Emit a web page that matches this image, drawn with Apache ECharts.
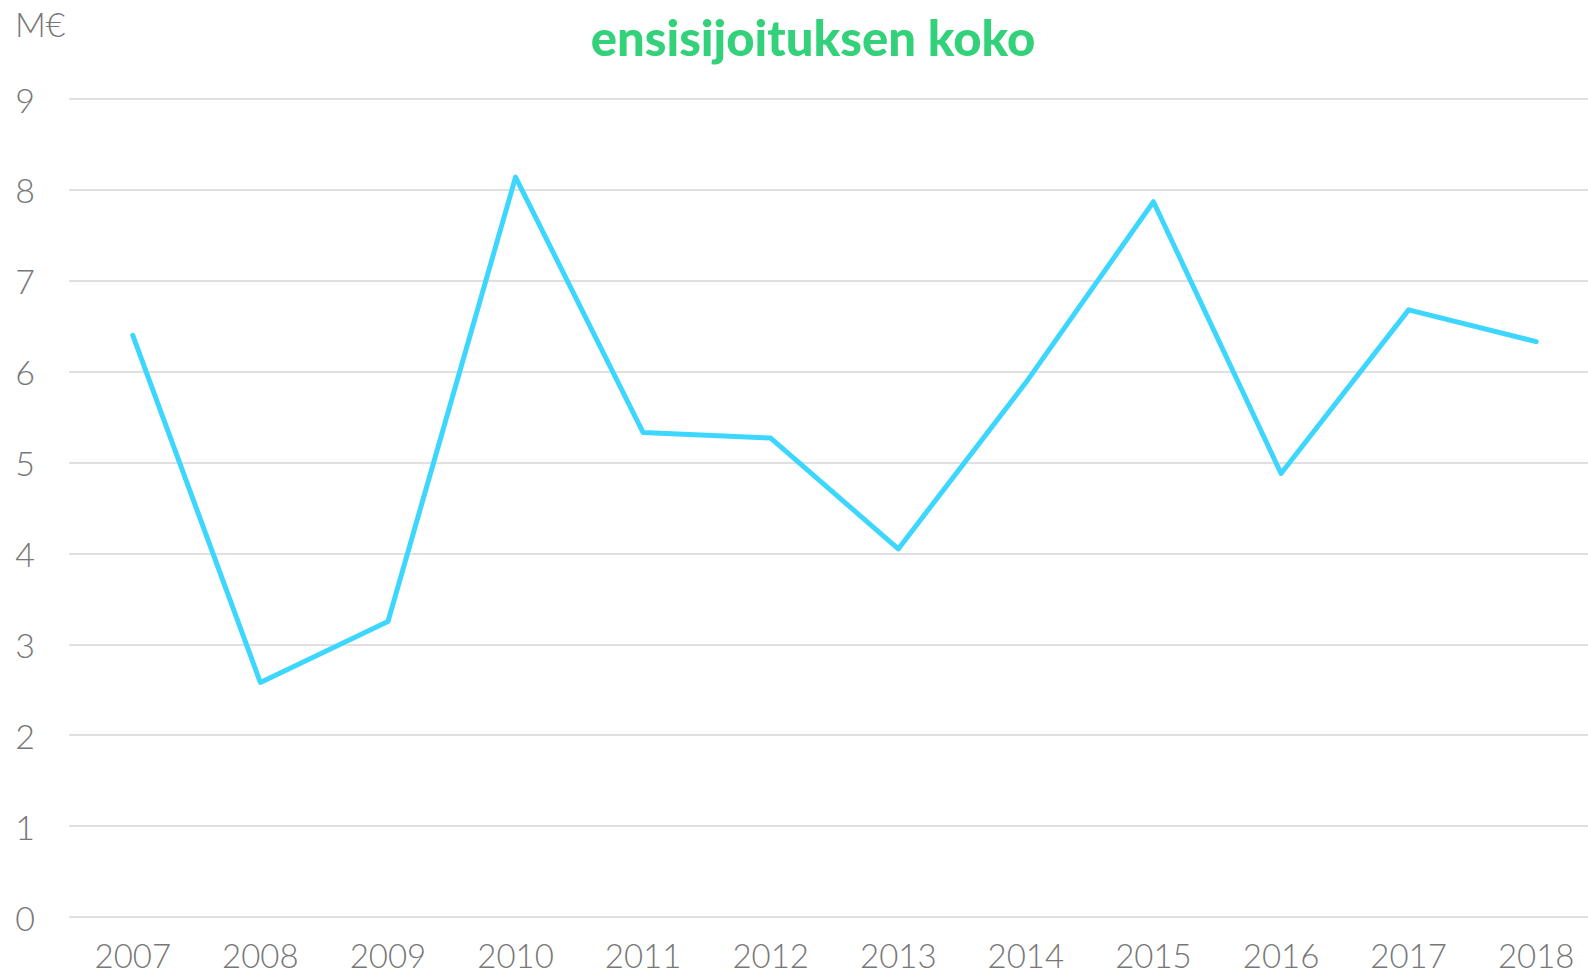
<!DOCTYPE html>
<html>
<head>
<meta charset="utf-8">
<script src="https://cdn.jsdelivr.net/npm/echarts@6/dist/echarts.min.js"></script>
<style>
html,body{margin:0;padding:0;background:#fff;overflow:hidden;}
#chart{width:1600px;height:977px;}
</style>
</head>
<body>
<div id="chart"></div>
<script>
const years = ['2007','2008','2009','2010','2011','2012','2013','2014','2015','2016','2017','2018'];
const values = [6.40, 2.58, 3.25, 8.14, 5.33, 5.27, 4.05, 5.88, 7.87, 4.88, 6.68, 6.33];
const titleText = 'ensisijoituksen koko';
const unitText = 'M€';

const chart = echarts.init(document.getElementById('chart'), null, {renderer: 'svg'});
const labelFont = {color: '#777777', fontFamily: 'Lato, "Open Sans", sans-serif', fontWeight: 300, fontSize: 34};
chart.setOption({
  animation: false,
  backgroundColor: '#ffffff',
  title: [{
    text: titleText,
    left: 808, top: 7, textAlign: 'center',
    textStyle: {color: '#33d17a', fontFamily: 'Lato, "Noto Sans", sans-serif', fontWeight: 900, fontSize: 49}
  }, {
    text: unitText,
    left: 10, top: 1,
    textStyle: Object.assign({}, labelFont)
  }],
  grid: {left: 69, right: 0, top: 99, bottom: 60, containLabel: false},
  xAxis: {
    type: 'category', data: years, boundaryGap: true,
    axisLine: {show: false}, axisTick: {show: false},
    axisLabel: Object.assign({margin: 24, lineHeight: 28}, labelFont, {fontSize: 33})
  },
  yAxis: {
    type: 'value', min: 0, max: 9, interval: 1,
    axisLine: {show: false}, axisTick: {show: false},
    axisLabel: Object.assign({margin: 34}, labelFont),
    splitLine: {lineStyle: {color: '#e0e0e0', width: 2}}
  },
  series: [{
    type: 'line', data: values, symbol: 'none',
    lineStyle: {color: '#3dd6ff', width: 5, cap: 'round', join: 'round'}
  }]
});
</script>
</body>
</html>
